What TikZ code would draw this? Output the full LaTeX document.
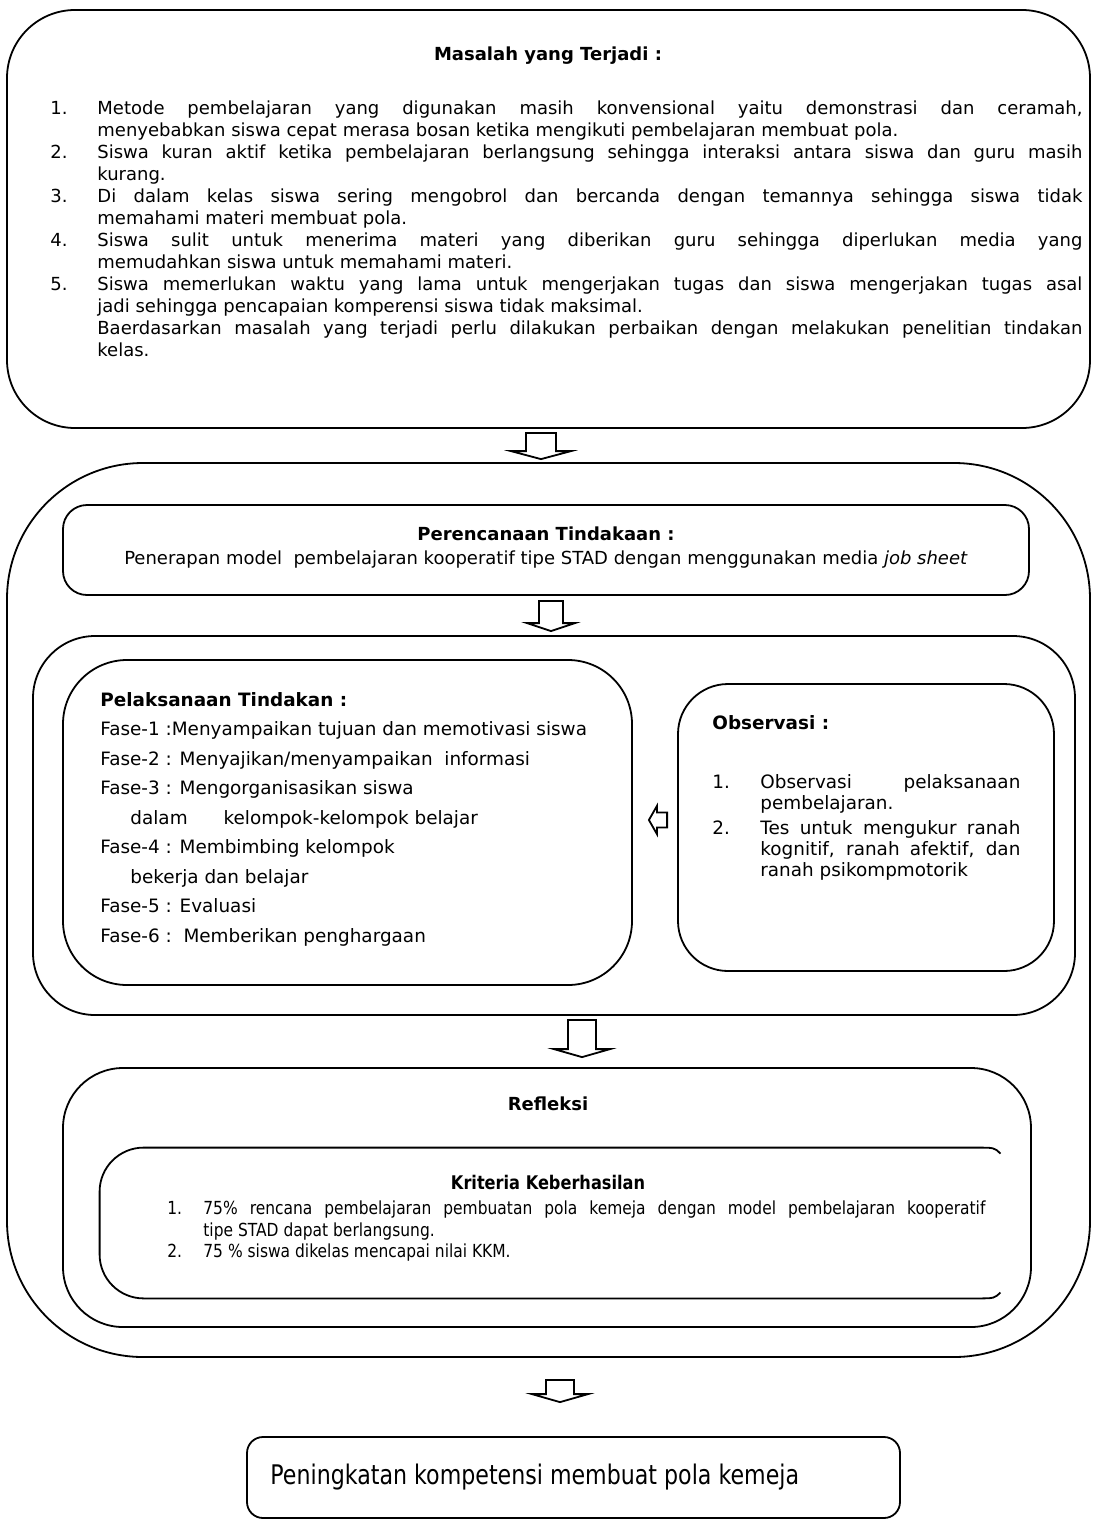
\documentclass[tikz,border=0pt]{standalone}
\usepackage{fontspec}
\setmainfont{DejaVu Sans}
\newfontfamily\narrowfont[FakeStretch=0.86]{DejaVu Sans}
\newfontfamily\narrowerfont[FakeStretch=0.82]{DejaVu Sans}
\usetikzlibrary{positioning,calc}
\newcommand{\numitem}[2][23.5pt]{\par\noindent\hangindent=#1\hangafter=1\makebox[#1][l]{#2}\ignorespaces}
\tikzset{
roundbox/.style = {draw, line width=0.9pt, rounded corners=#1, inner sep=0pt},
roundbox/.default = 10pt,
txt/.style = {inner sep=0pt, font=\fontsize{9}{11}\selectfont},
ttl/.style = {inner sep=0pt, font=\fontsize{9}{11}\selectfont\bfseries},
fatdown/.style = {draw, line width=0.9pt, fill=white,
    to path={let \p1=(\tikztostart), \p2=(\tikztotarget) in
      (\x1-#1,\y1) -- (\x1+#1,\y1) -- (\x1+#1,\y2+4pt) -- (\x1+2*#1,\y2+4pt)
      -- (\x1,\y2) -- (\x1-2*#1,\y2+4pt) -- (\x1-#1,\y2+4pt) -- cycle}},
fatdown/.default = 7pt,
fatleft/.style = {draw, line width=0.9pt, fill=white,
    to path={let \p1=(\tikztostart), \p2=(\tikztotarget) in
      (\x1,\y1+3.75pt) -- (\x2+4pt,\y1+3.75pt) -- (\x2+4pt,\y1+7pt) -- (\x2,\y1)
      -- (\x2+4pt,\y1-7pt) -- (\x2+4pt,\y1-3.75pt) -- (\x1,\y1-3.75pt) -- cycle}}
}
\begin{document}
\begin{tikzpicture}[x=0.5pt, y=-0.5pt]
    \useasboundingbox (0,0) rectangle (1094,1522);
    % frames
    \node [roundbox=34pt, minimum width=541.5pt, minimum height=209pt] (masalah) at (548.5,219) {};
    \node [roundbox=68pt, minimum width=541.5pt, minimum height=447pt] (siklus) at (548.5,910) {};
    \node [roundbox=12pt, minimum width=483pt, minimum height=45pt] (rencana) at (546,550) {};
    \node [roundbox=31pt, minimum width=521pt, minimum height=189.5pt] (tindakanblok) at (554,825.5) {};
    \node [roundbox=32pt, minimum width=284.5pt, minimum height=162.5pt] (tindakan) at (347.5,822.5) {};
    \node [roundbox=25pt, minimum width=188pt, minimum height=143.5pt] (observasi) at (866,827.5) {};
    \node [roundbox=30pt, minimum width=484pt, minimum height=129.5pt] (refleksi) at (547,1197.5) {};
    \node [inner sep=0pt, minimum width=450pt, minimum height=75pt] (kriteria) at (550,1223) {};
    \node [roundbox=8pt, minimum width=326.5pt, minimum height=40.5pt] (hasil) at (573.5,1477.5) {};
    \draw [line width=0.9pt] ([yshift=-3pt]kriteria.north east) .. controls ([xshift=-3pt]kriteria.north east) .. ([xshift=-12pt]kriteria.north east)
        [rounded corners=22pt] -- (kriteria.north west) -- (kriteria.south west) [sharp corners] -- ([xshift=-12pt]kriteria.south east)
        .. controls ([xshift=-3pt]kriteria.south east) .. ([yshift=3pt]kriteria.south east);

    % texts
    \node [ttl, anchor=base] (judulmasalah) at (548,60) {Masalah yang Terjadi :};
    \node [txt, anchor=north west, text width=516pt, align=justify] (isimasalah) at (50,92) {%
      \numitem{1.}Metode pembelajaran yang digunakan masih konvensional yaitu demonstrasi dan ceramah,\linebreak
      menyebabkan siswa cepat merasa bosan ketika mengikuti pembelajaran membuat pola.
      \numitem{2.}Siswa kuran aktif ketika pembelajaran berlangsung sehingga interaksi antara siswa dan guru masih\linebreak
      kurang.
      \numitem{3.}Di dalam kelas siswa sering mengobrol dan bercanda dengan temannya sehingga siswa tidak\linebreak
      memahami materi membuat pola.
      \numitem{4.}Siswa sulit untuk menerima materi yang diberikan guru sehingga diperlukan media yang\linebreak
      memudahkan siswa untuk memahami materi.
      \numitem{5.}Siswa memerlukan waktu yang lama untuk mengerjakan tugas dan siswa mengerjakan tugas asal\linebreak
      jadi sehingga pencapaian komperensi siswa tidak maksimal.
      \par\noindent\hangindent=23.5pt\hangafter=0 Baerdasarkan masalah yang terjadi perlu dilakukan perbaikan dengan melakukan penelitian tindakan\linebreak
      kelas.\par};
    \node [ttl, anchor=base] (judulrencana) at (546,540) {Perencanaan Tindakaan :};
    \node [txt, anchor=base] (isirencana) at (546,564) {Penerapan model\ \ pembelajaran kooperatif tipe STAD dengan menggunakan media \textit{job sheet}};
    \node [inner sep=0pt, anchor=north west, align=left, font=\fontsize{9.2}{14.75}\selectfont] (isitindakan) at (100,692) {%
      \textbf{Pelaksanaan Tindakan :}\\
      Fase-1 :Menyampaikan tujuan dan memotivasi siswa\\
      Fase-2 : Menyajikan/menyampaikan\ \ informasi\\
      Fase-3 : Mengorganisasikan siswa\\
      \hspace*{15pt}dalam\hspace{18pt}kelompok-kelompok belajar\\
      Fase-4 : Membimbing kelompok\\
      \hspace*{15pt}bekerja dan belajar\\
      Fase-5 : Evaluasi\\
      Fase-6 :\ \ Memberikan penghargaan};
    \node [ttl, anchor=base west, font=\fontsize{9.2}{11}\selectfont\bfseries] (judulobservasi) at (712,729) {Observasi :};
    \node [inner sep=0pt, anchor=north west, text width=154pt, align=justify, font=\fontsize{9.2}{10.5}\selectfont] (isiobservasi) at (712,767) {%
      \numitem[24pt]{1.}Observasi pelaksanaan\linebreak
      pembelajaran.\par\vskip2pt
      \numitem[24pt]{2.}Tes untuk mengukur ranah\linebreak
      kognitif, ranah afektif, dan\linebreak
      ranah psikompmotorik\par};
    \node [ttl, anchor=base] (judulrefleksi) at (548,1110) {Refleksi};
    \node [inner sep=0pt, anchor=base, font=\fontsize{9.4}{11}\narrowfont\bfseries] (judulkriteria) at (548,1189) {Kriteria Keberhasilan};
    \node [inner sep=0pt, anchor=north west, text width=409pt, align=justify, font=\fontsize{9}{10.9}\narrowfont] (isikriteria) at (167,1192) {%
      \numitem[18pt]{1.}75\% rencana pembelajaran pembuatan pola kemeja dengan model pembelajaran kooperatif\linebreak
      tipe STAD dapat berlangsung.
      \numitem[18pt]{2.}75 \% siswa dikelas mencapai nilai KKM.\par};
    \node [inner sep=0pt, anchor=base west, font=\fontsize{13.5}{15}\narrowerfont] (isihasil) at (270,1484) {Peningkatan kompetensi membuat pola kemeja};

    % block arrows
    \draw [fatdown=7.5pt] ([xshift=-3.75pt,yshift=-2pt]masalah.south) to ([xshift=-3.75pt,yshift=1.5pt]siklus.north);
    \draw [fatdown=6pt] ([xshift=2.5pt,yshift=-2.5pt]rencana.south) to ([xshift=2.5pt,yshift=2pt]tindakanblok.north);
    \draw [fatdown] ([xshift=14pt,yshift=-2pt]tindakanblok.south) to ([xshift=14pt,yshift=5pt]refleksi.north);
    \draw [fatdown] ([xshift=5.75pt,yshift=-11pt]siklus.south) to ([xshift=5.75pt,yshift=17pt]hasil.north);
    \draw [fatleft] ([xshift=-5pt,yshift=3.75pt]observasi.west) to ([xshift=8pt]tindakan.east);
\end{tikzpicture}
\end{document}
